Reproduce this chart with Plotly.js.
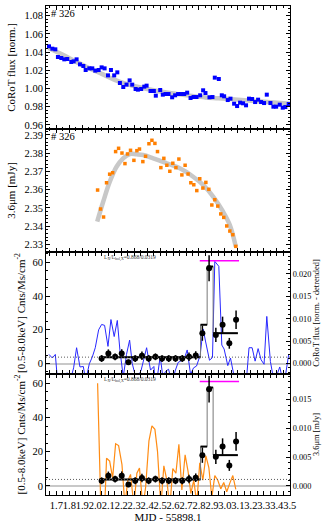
<!DOCTYPE html>
<html>
<head>
<meta charset="utf-8">
<script src="https://cdn.plot.ly/plotly-3.0.1.min.js"></script>
<style>body{margin:0;background:#fff}#plot{width:327px;height:530px}</style>
</head>
<body>
<div id="plot"></div>
<script>
// CoRoT optical light curve, MJD - 55898.1
const corotT = [1.643, 1.669, 1.692, 1.712, 1.738, 1.761, 1.784, 1.815, 1.833, 1.856,
    1.882, 1.908, 1.926, 1.954, 1.977, 2.000, 2.026, 2.049, 2.072, 2.098,
    2.121, 2.146, 2.170, 2.190, 2.216, 2.241, 2.265, 2.285, 2.311, 2.329,
    2.354, 2.378, 2.396, 2.426, 2.452, 2.467, 2.501, 2.521, 2.542, 2.565,
    2.593, 2.616, 2.639, 2.663, 2.686, 2.709, 2.735, 2.758, 2.781, 2.809,
    2.832, 2.850, 2.881, 2.904, 2.922, 2.953, 2.976, 2.994, 3.022, 3.043,
    3.071, 3.094, 3.117, 3.140, 3.163, 3.186, 3.210, 3.233, 3.256, 3.279,
    3.302, 3.323, 3.351, 3.374, 3.395, 3.423, 3.446, 3.466, 3.492];
const corotFlux = [1.0463, 1.0437, 1.0430, 1.0346, 1.0335, 1.0320, 1.0324, 1.0291, 1.0298, 1.0320,
    1.0265, 1.0247, 1.0203, 1.0221, 1.0221, 1.0196, 1.0203, 1.0232, 1.0221, 1.0144,
    1.0203, 1.0144, 1.0177, 1.0060, 1.0016, 1.0042, 1.0089, 1.0042, 0.9994, 0.9987,
    0.9994, 1.0020, 1.0031, 0.9972, 0.9972, 0.9921, 0.9983, 0.9932, 0.9939, 0.9939,
    0.9903, 0.9925, 0.9939, 0.9939, 0.9939, 0.9954, 0.9895, 0.9906, 0.9906, 0.9925,
    0.9980, 0.9950, 0.9903, 0.9906, 1.0119, 1.0104, 0.9925, 0.9914, 0.9873, 0.9888,
    0.9833, 0.9807, 0.9844, 0.9837, 0.9815, 0.9888, 0.9884, 0.9851, 0.9877, 0.9851,
    0.9840, 0.9932, 0.9840, 0.9800, 0.9800, 0.9822, 0.9789, 0.9796, 0.9829];
const corotTrendT = [1.64, 1.75, 1.85, 1.95, 2.05, 2.15, 2.25, 2.35, 2.45, 2.55,
    2.65, 2.75, 2.85, 2.95, 3.05, 3.15, 3.25, 3.35, 3.50];
const corotTrend = [1.0445, 1.0370, 1.0295, 1.0225, 1.0160, 1.0095, 1.0045, 1.0010, 0.9980, 0.9955,
    0.9935, 0.9917, 0.9902, 0.9893, 0.9883, 0.9872, 0.9860, 0.9848, 0.9833];
const corotDetrended = [0.0020, 0.0012, 0.0020, -0.0050, -0.0043, -0.0042, -0.0021, -0.0030, -0.0010, 0.0035,
    -0.0008, -0.0007, -0.0039, -0.0001, 0.0014, 0.0035, 0.0075, 0.0087, 0.0085, 0.0038,
    0.0098, 0.0060, 0.0096, 0.0030, -0.0030, 0.0020, 0.0052, 0.0000, -0.0030, -0.0031,
    -0.0015, 0.0018, 0.0035, -0.0015, -0.0007, -0.0055, 0.0016, -0.0030, -0.0018, -0.0013,
    -0.0043, -0.0017, 0.0002, 0.0006, 0.0010, 0.0030, -0.0025, -0.0010, -0.0006, 0.0018,
    0.0077, 0.0050, 0.0007, 0.0013, 0.0228, 0.0217, 0.0041, 0.0032, -0.0005, 0.0012,
    -0.0039, -0.0063, -0.0023, -0.0027, -0.0047, 0.0035, 0.0035, 0.0005, 0.0033, 0.0008,
    -0.0002, 0.0105, 0.0004, -0.0033, -0.0031, -0.0008, -0.0038, -0.0029, 0.0020];

// Spitzer 3.6um light curve
const irT = [2.018, 2.041, 2.064, 2.087, 2.111, 2.134, 2.157, 2.180, 2.206, 2.229,
    2.249, 2.272, 2.298, 2.321, 2.341, 2.367, 2.388, 2.414, 2.437, 2.460,
    2.480, 2.506, 2.529, 2.552, 2.575, 2.598, 2.622, 2.645, 2.668, 2.693,
    2.716, 2.737, 2.760, 2.783, 2.806, 2.830, 2.853, 2.876, 2.899, 2.922,
    2.945, 2.968, 2.991, 3.014, 3.038, 3.061, 3.084];
const irFlux = [2.3598, 2.3494, 2.3450, 2.3638, 2.3685, 2.3693, 2.3809, 2.3827, 2.3801, 2.3743,
    2.3796, 2.3816, 2.3761, 2.3814, 2.3823, 2.3754, 2.3783, 2.3852, 2.3871, 2.3854,
    2.3809, 2.3721, 2.3772, 2.3734, 2.3701, 2.3745, 2.3721, 2.3768, 2.3681, 2.3734,
    2.3686, 2.3638, 2.3627, 2.3595, 2.3660, 2.3609, 2.3640, 2.3602, 2.3516, 2.3545,
    2.3510, 2.3467, 2.3448, 2.3401, 2.3373, 2.3353, 2.3289];
const irTrendT = [2.015, 2.061, 2.112, 2.164, 2.215, 2.267, 2.318, 2.370, 2.447, 2.550,
    2.652, 2.755, 2.832, 2.909, 2.986, 3.038, 3.084];
const irTrend = [2.3425, 2.3534, 2.3644, 2.3726, 2.3772, 2.3796, 2.3794, 2.3790, 2.3772, 2.3745,
    2.3717, 2.3671, 2.3626, 2.3562, 2.3479, 2.3406, 2.3287];
const irDetrended = [0.0178, -0.0020, -0.0090, 0.0048, 0.0043, 0.0014, 0.0073, 0.0070, 0.0037, -0.0035,
    0.0008, 0.0020, -0.0034, 0.0022, 0.0031, -0.0036, -0.0003, 0.0078, 0.0104, 0.0098,
    0.0060, -0.0036, 0.0035, 0.0010, -0.0037, 0.0030, 0.0022, 0.0072, -0.0007, 0.0054,
    0.0025, -0.0013, 0.0010, -0.0030, 0.0040, 0.0010, 0.0052, 0.0032, -0.0020, 0.0018,
    0.0010, -0.0005, 0.0006, -0.0010, 0.0005, 0.0018, -0.0006];

// Chandra [0.5-8.0 keV] count rates
const xrayT = [2.049, 2.101, 2.153, 2.204, 2.256, 2.308, 2.360, 2.412, 2.464, 2.515,
    2.567, 2.619, 2.671, 2.723, 2.775, 2.826, 2.878, 2.930, 2.982, 3.034, 3.086];
const xrayRate = [3.0, 5.9, 4.0, 6.0, 0.8, 3.0, 4.6, 3.0, 4.0, 3.0,
    3.0, 3.0, 3.0, 4.0, 4.8, 18.0, 56.5, 17.0, 23.0, 12.0, 26.0];
const xrayErr = [2.0, 2.5, 2.0, 2.5, 1.5, 2.0, 2.5, 2.0, 2.0, 2.0,
    2.0, 2.0, 2.0, 2.5, 2.5, 4.5, 7.7, 4.2, 4.8, 3.2, 5.5];
const blockEdges = [2.04, 2.812, 2.863, 2.909, 3.10];
const blockRates = [3.8, 23.0, 57.5, 18.0];
const quiescentLevel = 3.8;
const flareWindow = [2.806, 3.109];
const flareLevel = 61;
const sourceId = '# 326';
const ratioLabel = 'L<sub>X</sub>/L<sub>bol,X</sub>=0.868/0.0319';

const serif = 'Liberation Serif, Times New Roman, serif';
const grey = 'rgb(200,200,200)';

// build bayesian block segments
let blkX = [], blkY = [];
for (let i = 0; i < blockRates.length; i++) {
    blkX.push(blockEdges[i], blockEdges[i + 1], null);
    blkY.push(blockRates[i], blockRates[i], null);
}
const stepX = blockEdges.slice();
const stepY = blockRates.concat([blockRates[blockRates.length - 1]]);

function xrayTraces(xa, ya) {
    return [
        {x: stepX, y: stepY, xaxis: xa, yaxis: ya, mode: 'lines', line: {shape: 'hv', color: 'rgb(120,120,120)', width: 1}},
        {x: blkX, y: blkY, xaxis: xa, yaxis: ya, mode: 'lines', line: {color: '#000', width: 2}},
        {x: flareWindow, y: [flareLevel, flareLevel], xaxis: xa, yaxis: ya, mode: 'lines', line: {color: 'rgb(255,0,255)', width: 1.5}},
        {x: xrayT, y: xrayRate, xaxis: xa, yaxis: ya, mode: 'markers',
            marker: {color: '#000', size: 6, symbol: 'circle'},
            error_y: {type: 'data', array: xrayErr, color: '#000', thickness: 1.5, width: 0}}
    ];
}

const traces = [
    {x: corotTrendT, y: corotTrend, xaxis: 'x', yaxis: 'y', mode: 'lines', line: {color: grey, width: 4.5, shape: 'spline'}},
    {x: corotT, y: corotFlux, xaxis: 'x', yaxis: 'y', mode: 'markers', marker: {color: '#0000ff', size: 4, symbol: 'square'}},
    {x: irTrendT, y: irTrend, xaxis: 'x2', yaxis: 'y2', mode: 'lines', line: {color: grey, width: 4.5, shape: 'spline'}},
    {x: irT, y: irFlux, xaxis: 'x2', yaxis: 'y2', mode: 'markers', marker: {color: 'rgb(255,127,0)', size: 3.5, symbol: 'square'}},
    {x: corotT, y: corotDetrended, xaxis: 'x3', yaxis: 'y3', mode: 'lines', line: {color: 'rgb(40,40,255)', width: 1}},
    {x: irT, y: irDetrended, xaxis: 'x4', yaxis: 'y4', mode: 'lines', line: {color: 'rgb(255,140,20)', width: 1.2}}
].concat(xrayTraces('x3', 'y5'), xrayTraces('x4', 'y6'));

const tickFont = {family: serif, size: 10.5, color: '#000'};
const smallFont = {family: serif, size: 8.3, color: '#000'};
const base = {
    showline: true, linecolor: '#000', linewidth: 1, ticks: 'inside', ticklen: 4,
    tickcolor: '#000', showgrid: false, zeroline: false, tickfont: tickFont
};
const xRange = [1.62, 3.502];
function xAxis(anchor, labels) {
    return Object.assign({}, base, {
        anchor: anchor, range: xRange, dtick: 0.1, tick0: 1.7, tickformat: '.1f', tickangle: 0,
        mirror: 'allticks', showticklabels: labels,
        minor: {dtick: 0.05, ticklen: 2, ticks: 'inside', tickcolor: '#000'}
    });
}

const dom1 = [0.7485, 1], dom2 = [0.4969, 0.7485], dom3 = [0.2474, 0.4969], dom4 = [0, 0.2474];

const layout = {
    width: 327, height: 530,
    margin: {l: 46, r: 37, t: 6, b: 35},
    paper_bgcolor: '#fff', plot_bgcolor: '#fff',
    showlegend: false,
    font: {family: serif, color: '#000'},
    xaxis: xAxis('y', false),
    xaxis2: xAxis('y2', false),
    xaxis3: xAxis('y3', false),
    xaxis4: Object.assign(xAxis('y4', true), {
        title: {text: 'MJD - 55898.1', font: {family: serif, size: 11, color: '#000'}, standoff: 0}
    }),
    yaxis: Object.assign({}, base, {
        domain: dom1, anchor: 'x', range: [0.9555, 1.0906], dtick: 0.02, tickformat: '.2f', mirror: 'allticks',
        minor: {dtick: 0.004, ticklen: 2, ticks: 'inside', tickcolor: '#000'},
        title: {text: 'CoRoT flux [norm.]', font: {family: serif, size: 11, color: '#000'}, standoff: 6}
    }),
    yaxis2: Object.assign({}, base, {
        domain: dom2, anchor: 'x2', range: [2.3258, 2.3933], dtick: 0.01, tickformat: '.2f', mirror: 'allticks',
        minor: {dtick: 0.002, ticklen: 2, ticks: 'inside', tickcolor: '#000'},
        title: {text: '3.6μm [mJy]', font: {family: serif, size: 11, color: '#000'}, standoff: 6}
    }),
    yaxis3: Object.assign({}, base, {
        domain: dom3, anchor: 'x3', side: 'right', range: [-0.00238, 0.0249], dtick: 0.005, tickformat: '.3f',
        tickfont: smallFont, ticklen: 4,
        minor: {dtick: 0.001, ticklen: 2, ticks: 'inside', tickcolor: '#000'},
        title: {text: 'CoRoT flux [norm. - detrended]', font: {family: serif, size: 8.4, color: '#000'}, standoff: 2}
    }),
    yaxis4: Object.assign({}, base, {
        domain: dom4, anchor: 'x4', side: 'right', range: [-0.00156, 0.01938], dtick: 0.005, tickformat: '.3f',
        tickfont: smallFont, ticklen: 4,
        minor: {dtick: 0.001, ticklen: 2, ticks: 'inside', tickcolor: '#000'},
        title: {text: '3.6μm [mJy]', font: {family: serif, size: 8.4, color: '#000'}, standoff: 2}
    }),
    yaxis5: Object.assign({}, base, {
        overlaying: 'y3', anchor: 'x3', side: 'left', range: [-6.2, 66.1], dtick: 20,
        zeroline: true, zerolinecolor: grey, zerolinewidth: 2,
        minor: {dtick: 5, ticklen: 2, ticks: 'inside', tickcolor: '#000'},
        title: {text: '[0.5-8.0keV] Cnts/Ms/cm<sup>-2</sup>', font: {family: serif, size: 11, color: '#000'}, standoff: 4}
    }),
    yaxis6: Object.assign({}, base, {
        overlaying: 'y4', anchor: 'x4', side: 'left', range: [-5.3, 65.4], dtick: 20,
        zeroline: true, zerolinecolor: grey, zerolinewidth: 2,
        minor: {dtick: 5, ticklen: 2, ticks: 'inside', tickcolor: '#000'},
        title: {text: '[0.5-8.0keV] Cnts/Ms/cm<sup>-2</sup>', font: {family: serif, size: 11, color: '#000'}, standoff: 4}
    }),
    shapes: [
        {type: 'line', xref: 'x3 domain', yref: 'y5', x0: 0, x1: 1, y0: quiescentLevel, y1: quiescentLevel,
            line: {color: 'rgb(90,90,90)', width: 1, dash: '1px,2px'}},
        {type: 'line', xref: 'x4 domain', yref: 'y6', x0: 0, x1: 1, y0: quiescentLevel, y1: quiescentLevel,
            line: {color: 'rgb(90,90,90)', width: 1, dash: '1px,2px'}}
    ],
    annotations: [
        {text: sourceId, xref: 'x domain', yref: 'y domain', x: 0.012, y: 1, xanchor: 'left', yanchor: 'top',
            showarrow: false, font: {family: serif, size: 10.5, color: '#000'}},
        {text: sourceId, xref: 'x2 domain', yref: 'y2 domain', x: 0.012, y: 1, xanchor: 'left', yanchor: 'top',
            showarrow: false, font: {family: serif, size: 10.5, color: '#000'}},
        {text: ratioLabel, xref: 'x3 domain', yref: 'y3 domain', x: 0.344, y: 1, xanchor: 'center', yanchor: 'top',
            showarrow: false, font: {family: serif, size: 5.5, color: '#333'}},
        {text: ratioLabel, xref: 'x4 domain', yref: 'y4 domain', x: 0.344, y: 1, xanchor: 'center', yanchor: 'top',
            showarrow: false, font: {family: serif, size: 5.5, color: '#333'}}
    ]
};

Plotly.newPlot('plot', traces, layout, {displayModeBar: false, staticPlot: true});
</script>
</body>
</html>
